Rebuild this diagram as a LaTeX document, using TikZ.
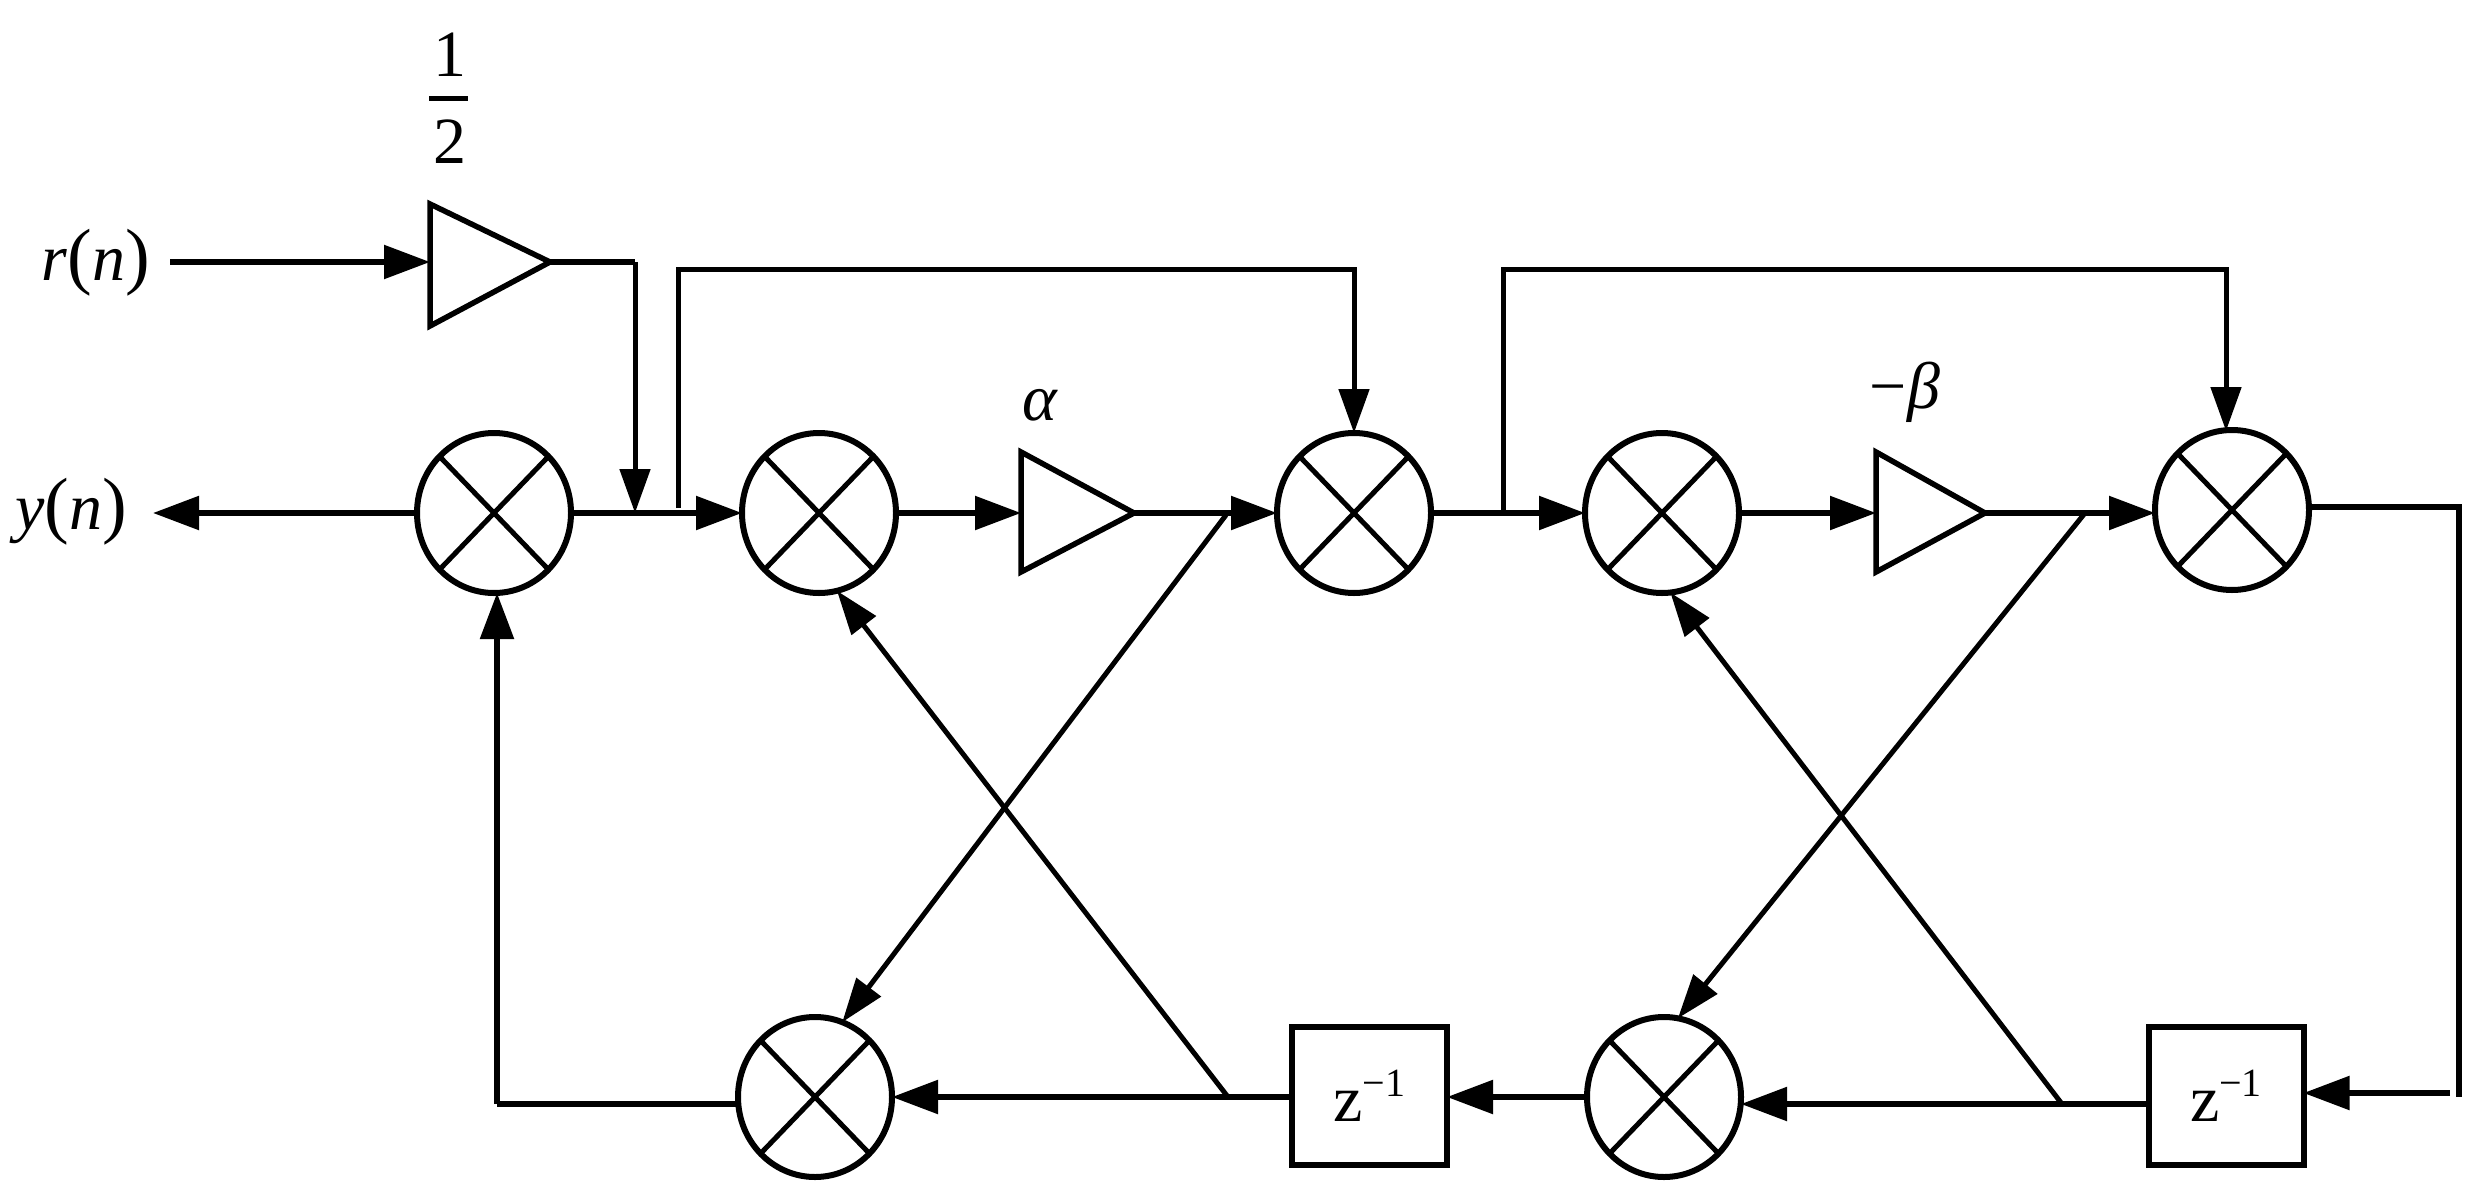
\documentclass[tikz,border=0pt]{standalone}
\usepackage{fontspec}
\setmainfont{Liberation Serif}
\usetikzlibrary{arrows.meta,shapes.geometric,calc}
\tikzset{
  mult/.style={ellipse,draw,line width=6pt,inner sep=0pt,outer sep=0pt,minimum width=154pt,minimum height=160pt,
    path picture={\draw[line width=5pt] (path picture bounding box.north west)--(path picture bounding box.south east);
                  \draw[line width=5pt] (path picture bounding box.south west)--(path picture bounding box.north east);}},
  ampbox/.style={inner sep=0pt,outer sep=0pt},
  delay/.style={draw,line width=6pt,inner sep=0pt,outer sep=0pt,minimum width=155pt,minimum height=138pt,font=\fontsize{66}{66}\selectfont},
  lab/.style={inner sep=0pt,outer sep=0pt,font=\fontsize{66}{66}\selectfont},
  wire/.style={line width=5.5pt,line join=miter},
  conn/.style={line width=5.5pt,-{Stealth[length=46pt,width=33pt,inset=0pt]}},
  vconn/.style={line width=5pt,line join=miter,-{Stealth[length=44pt,width=30pt,inset=0pt]}},
  dconn/.style={line width=5pt,-{Stealth[length=44pt,width=30pt,inset=0pt]}},
  tri/.style={line width=5.5pt,line join=miter},
}
\newcommand{\supm}{\raisebox{25pt}{\fontsize{40}{40}\selectfont −1}}
\newcommand{\bigpar}[1]{{\fontsize{74}{74}\selectfont #1}}
\begin{document}
\begin{tikzpicture}[x=1pt,y=-1pt]
\useasboundingbox (0,0) rectangle (2492,1199);
\fill[white] (0,0) rectangle (2492,1199);
% multipliers
\node[mult] (m1) at (494,513) {};
\node[mult] (m2) at (819,513) {};
\node[mult] (m3) at (1354,513) {};
\node[mult] (m4) at (1662,513) {};
\node[mult] (m5) at (2232,510) {};
\node[mult] (m6) at (1664,1097) {};
\node[mult] (m7) at (815,1097) {};
% amplifiers (triangle in an invisible box)
\node[ampbox,minimum width=120pt,minimum height=122pt] (t0) at (490,265) {};
\node[ampbox,minimum width=113pt,minimum height=120pt] (t1) at (1077.5,512) {};
\node[ampbox,minimum width=109pt,minimum height=120pt] (t2) at (1930.5,512) {};
\draw[tri] (t0.north west) -- ([yshift=3pt]t0.east) -- (t0.south west) -- cycle;
\draw[tri] (t1.north west) -- ([yshift=-1pt]t1.east) -- (t1.south west) -- cycle;
\draw[tri] (t2.north west) -- ([yshift=-1pt]t2.east) -- (t2.south west) -- cycle;
% delays
\node[delay] (d1) at (1369.5,1095.5) {z\supm};
\node[delay] (d2) at (2226,1095.5) {z\supm};
% labels
\node[lab] (rn) at (96,263) {\textit{r}\bigpar{(}\textit{n}\bigpar{)}};
\node[lab] (yn) at (71,512) {\textit{y}\bigpar{(}\textit{n}\bigpar{)}};
\node[lab] (hn) at (450,55) {1};
\node[lab] (hd) at (450,142) {2};
\draw[line width=5pt] (429,98) -- (468,98);
\node[lab] (al) at (1040,405) {\textit{α}};
\node[lab] (be) at (1905,392) {−\textit{β}};
% free ends and junctions
\coordinate (rin) at (170,262);
\coordinate (c0) at (635,262);
\coordinate (j0) at (635,513);
\coordinate (j1s) at (678,508);
\coordinate (c1a) at (678,269);
\coordinate (j2) at (1503,513);
\coordinate (c2a) at (1503,269);
\coordinate (c2b) at (2226,269);
\coordinate (c2t) at (2226,431);
\coordinate (c3a) at (2459,507);
\coordinate (c3b) at (2459,1097);
\coordinate (c3c) at (2450,1093);
\coordinate (yend) at (153,513);
\coordinate (c4) at (497,1104);
\coordinate (ja) at (1226,515);
\coordinate (jb) at (2085,513);
\coordinate (jc) at (1228,1097);
\coordinate (jd) at (2062,1104);
% forward path
\draw[conn] (m1.west) -- (yend);
\draw[conn] (m1.east) -- (m2.west);
\draw[conn] (m2.east) -- (m2.east -| t1.west);
\draw[conn] (m2.east -| t1.east) -- (m3.west);
\draw[conn] (m3.east) -- (m4.west);
\draw[conn] (m4.east) -- (m4.east -| t2.west);
\draw[conn] (m4.east -| t2.east) -- (m4.east -| m5.west);
% input
\draw[conn] (rin) -- (rin -| t0.west);
\draw[wire] (rin -| t0.east) -- (c0);
\draw[vconn] (c0) -- (j0);
% feed-forward
\draw[vconn] (j1s) -- (c1a) -- (c1a -| m3.north) -- (m3.north);
\draw[vconn] (j2) -- (c2a) -- (c2b) -- (c2t);
% return
\draw[wire] (c3a -| m5.east) -- (c3a) -- (c3b);
\draw[conn] (c3c) -- (c3c -| d2.east);
\draw[wire] (jd -| d2.west) -- (jd);
\draw[conn] (jd) -- (jd -| m6.east);
\draw[conn] (m6.west) -- (m6.west -| d1.east);
\draw[wire] (d1.west |- m7.east) -- (jc);
\draw[conn] (jc) -- (m7.east);
\draw[wire] (c4 -| m7.west) -- (c4);
\draw[conn] (c4) -- (c4 |- m1.south);
% crossings
\draw[dconn] (ja) -- (m7.70);
\draw[dconn] (jb) -- (m6.80);
\draw[dconn] (jc) -- (m2.-77);
\draw[dconn] (jd) -- (m4.-84);
\end{tikzpicture}
\end{document}
